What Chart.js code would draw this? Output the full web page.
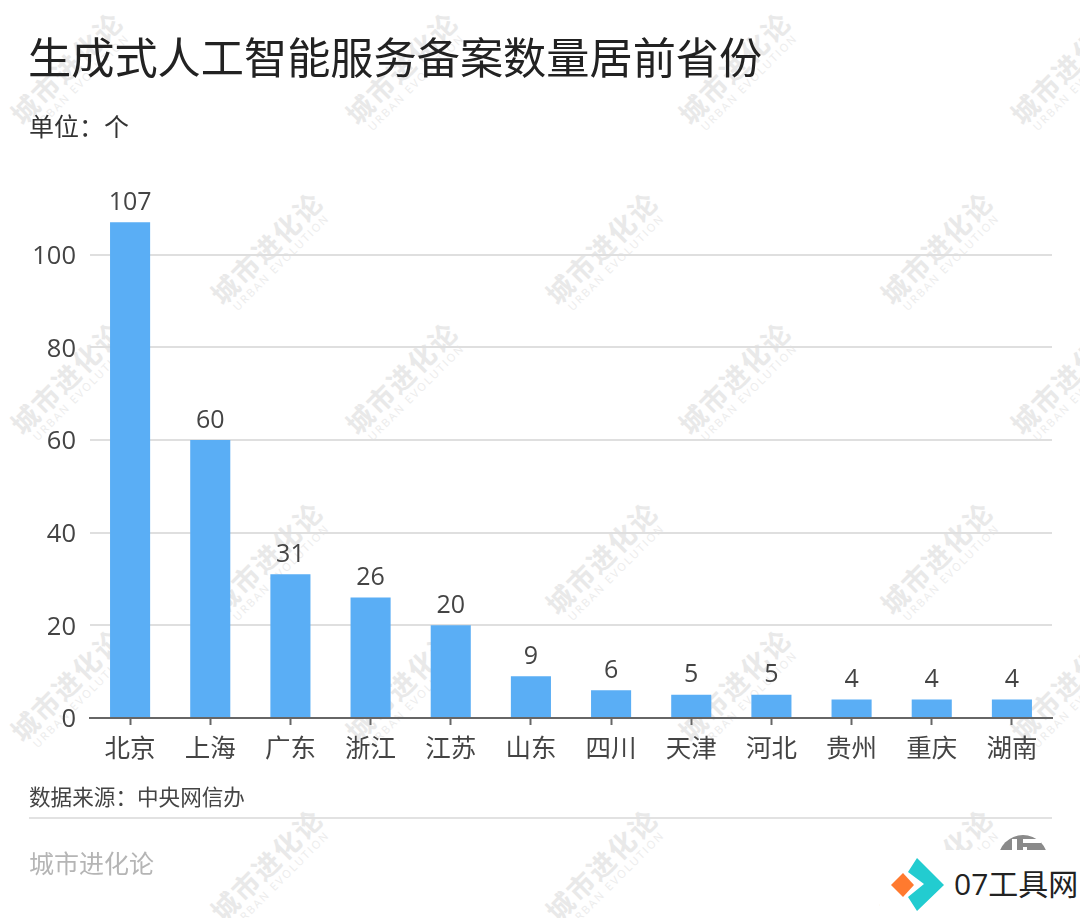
<!DOCTYPE html>
<html lang="zh-CN">
<head>
<meta charset="utf-8">
<title>生成式人工智能服务备案数量居前省份</title>
<script src="https://cdn.jsdelivr.net/npm/chart.js@4"></script>
<style>
  html, body { margin: 0; padding: 0; background: #fff; }
  body { position: relative; width: 1080px; height: 918px; overflow: hidden;
         font-family: "Open Sans", "Noto Sans CJK SC", sans-serif; }
  canvas { position: absolute; left: 0; top: 0; }
  .txt { position: absolute; white-space: nowrap; line-height: 1; }
  #title { left: 28px; top: 36px; font-size: 43.2px; color: #222; }
  #unit { left: 29px; top: 114px; font-size: 25px; color: #333; }
  #source { left: 29px; top: 786px; font-size: 21.6px; color: #444; }
  #rule { position: absolute; left: 29px; top: 817px; width: 1023px; height: 2px; background: #e2e2e2; }
  #brand { left: 29px; top: 851px; font-size: 25px; color: #b5b5b5; }
  .mark { position: absolute; width: 170px; text-align: center; transform: translate(-50%, -50%) rotate(-45deg);
          color: #e9e9e9; pointer-events: none; line-height: 1; }
  .mark b { display: block; font-weight: 700; font-size: 27px; letter-spacing: 2px; }
  .mark i { display: block; font-style: normal; font-size: 11px; letter-spacing: 2px; margin-top: 1px; color: #ececec; font-family: "Open Sans", sans-serif; }
  #avatar { position: absolute; left: 998px; top: 835px; }
  #logoBack { position: absolute; left: 880px; top: 850px; width: 200px; height: 68px; background: #fff; }
  #logo { position: absolute; left: 890px; top: 857px; }
  #logoText { left: 954px; top: 869px; font-size: 30px; color: #222; }
</style>
</head>
<body>
<div id="marks"></div>
<canvas id="chart" width="1080" height="918"></canvas>
<div id="title" class="txt">生成式人工智能服务备案数量居前省份</div>
<div id="unit" class="txt">单位：个</div>
<div id="source" class="txt">数据来源：中央网信办</div>
<div id="rule"></div>
<div id="brand" class="txt">城市进化论</div>
<svg id="avatar" width="50" height="50" viewBox="0 0 50 50">
  <circle cx="25" cy="25" r="25" fill="#8a8a8a"/>
  <rect x="14" y="4" width="5" height="20" fill="#fff"/>
  <rect x="25" y="4" width="18" height="4" fill="#fff"/>
  <rect x="25" y="12" width="4" height="12" fill="#fff"/>
</svg>
<div id="logoBack"></div>
<svg id="logo" width="56" height="56" viewBox="0 0 56 56">
  <polygon points="1,28 13,16 24,28 13,40" fill="#ff7a2f"/>
  <polygon points="27,1 54,28 27,54 18,40 34,27 18,15" fill="#22ccd0"/>
</svg>
<div id="logoText" class="txt">07工具网</div>

<script>
var categories = ['北京', '上海', '广东', '浙江', '江苏', '山东', '四川', '天津', '河北', '贵州', '重庆', '湖南'];
var counts = [107, 60, 31, 26, 20, 9, 6, 5, 5, 4, 4, 4];
var yTicks = [0, 20, 40, 60, 80, 100];

var fontFamily = '"Open Sans", "Noto Sans CJK SC", sans-serif';

// value labels above the bars
var barLabels = {
    id: 'barLabels',
    afterDatasetsDraw: function (chart) {
        var ctx = chart.ctx;
        var bars = chart.getDatasetMeta(0).data;
        ctx.save();
        ctx.font = '25px ' + fontFamily;
        ctx.fillStyle = '#444';
        ctx.textAlign = 'center';
        ctx.textBaseline = 'bottom';
        bars.forEach(function (bar, i) {
            ctx.fillText(counts[i], bar.x, bar.y - 7);
        });
        ctx.restore();
    }
};

new Chart(document.getElementById('chart'), {
    type: 'bar',
    data: {
        labels: categories,
        datasets: [{
            data: counts,
            backgroundColor: '#5aaef5',
            categoryPercentage: 1,
            barPercentage: 0.5
        }]
    },
    options: {
        responsive: false,
        animation: false,
        layout: { padding: { left: 0, right: 28, top: 162, bottom: 0 } },
        plugins: { legend: { display: false }, tooltip: { enabled: false } },
        scales: {
            x: {
                afterFit: function (scale) { scale.height = 200; },
                border: { color: '#666', width: 2 },
                grid: { offset: false, drawOnChartArea: false, color: '#666', tickLength: 7, tickWidth: 2 },
                ticks: {
                    color: '#444', padding: 9, maxRotation: 0, autoSkip: false,
                    font: { family: fontFamily, size: 25.5 }
                }
            },
            y: {
                min: 0,
                max: 120,
                afterFit: function (scale) { scale.width = 90; },
                afterBuildTicks: function (scale) {
                    scale.ticks = yTicks.map(function (v) { return { value: v }; });
                },
                border: { display: false },
                grid: { color: '#dfdfdf', lineWidth: 2, drawTicks: false },
                ticks: {
                    color: '#444', padding: 14, z: 1, labelOffset: 2,
                    font: { family: fontFamily, size: 25.5 }
                }
            }
        }
    },
    plugins: [barLabels]
});

// watermark stamps across the page
var markSpots = [
    [71, 72], [406, 72], [739, 72], [1071, 72],
    [271, 252], [606, 252], [941, 252],
    [71, 382], [406, 382], [739, 382], [1071, 382],
    [271, 562], [606, 562], [941, 562],
    [71, 689], [406, 689], [739, 689], [1071, 689],
    [271, 869], [606, 869], [941, 869]
];
var marks = document.getElementById('marks');
markSpots.forEach(function (p) {
    var el = document.createElement('div');
    el.className = 'mark';
    el.style.left = p[0] + 'px';
    el.style.top = p[1] + 'px';
    el.innerHTML = '<b>城市进化论</b><i>URBAN EVOLUTION</i>';
    marks.appendChild(el);
});
</script>
</body>
</html>
